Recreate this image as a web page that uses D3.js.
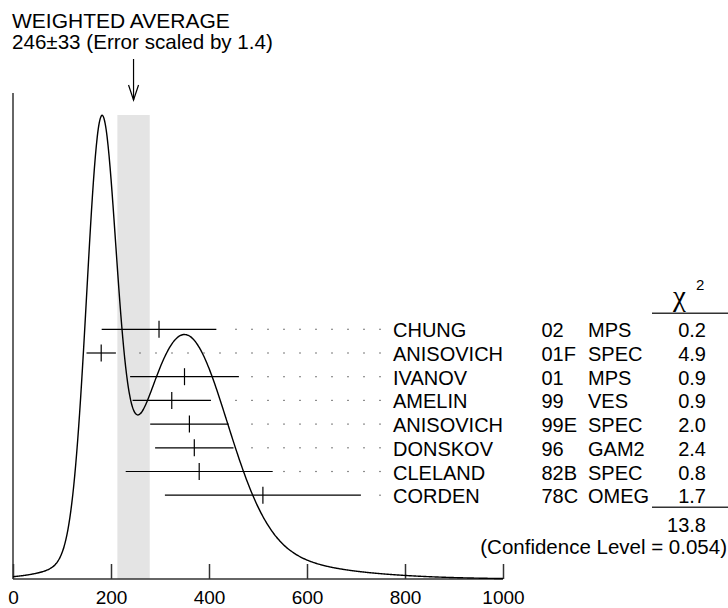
<!DOCTYPE html>
<html>
<head>
<meta charset="utf-8">
<script src="https://cdn.jsdelivr.net/npm/d3@7"></script>
<style>
  html, body { margin: 0; padding: 0; background: #fff; }
  svg { display: block; }
  text { font-family: "Liberation Sans", Arial, Helvetica, sans-serif; fill: #000; }
</style>
</head>
<body>
<svg id="chart" width="728" height="608"></svg>
<script>
// ---- data ----
const names = ["CHUNG", "ANISOVICH", "IVANOV", "AMELIN", "ANISOVICH", "DONSKOV", "CLELAND", "CORDEN"];
const years = ["02", "01F", "01", "99", "99E", "96", "82B", "78C"];
const experiments = ["MPS", "SPEC", "MPS", "VES", "SPEC", "GAM2", "SPEC", "OMEG"];
const values = [298, 180, 350, 324, 360, 370, 380, 510];
const errors = [117, 30, 111, 80, 80, 80, 150, 200];
const chi2 = ["0.2", "4.9", "0.9", "0.9", "2.0", "2.4", "0.8", "1.7"];
const xTicks = [0, 200, 400, 600, 800, 1000];
const average = 246;
const averageError = 33;
const errorScale = "1.4";
const chi2Total = "13.8";
const confidenceLevel = "0.054";

// ---- layout ----
const svg = d3.select("#chart");
const x = d3.scaleLinear().domain([0, 1000]).range([13, 503]);
const baseY = 579;
const rowY = d3.scalePoint().domain(d3.range(names.length)).range([329.3, 495.2]);

// ideogram: each measurement a Gaussian with area proportional to 1/error
const grid = d3.range(0, 1000.1, 2);
const curve = grid.map(v => {
  let s = 0;
  for (let i = 0; i < values.length; i++) {
    const z = (v - values[i]) / errors[i];
    s += Math.exp(-0.5 * z * z) / (errors[i] * errors[i]);
  }
  return [v, s];
});
const yMax = d3.max(curve, d => d[1]);
const y = d3.scaleLinear().domain([0, yMax]).range([baseY, 115]);

// weighted average band
svg.append("rect")
  .attr("x", x(average - averageError))
  .attr("width", x(average + averageError) - x(average - averageError))
  .attr("y", y(yMax))
  .attr("height", baseY - y(yMax))
  .attr("fill", "#e4e4e4");

// axes
const axisColor = "#333";
svg.append("line").attr("x1", x(0)).attr("x2", x(0)).attr("y1", 93).attr("y2", baseY)
  .attr("stroke", axisColor).attr("stroke-width", 1.5);
svg.append("line").attr("x1", x(0)).attr("x2", x(1000)).attr("y1", baseY).attr("y2", baseY)
  .attr("stroke", axisColor).attr("stroke-width", 1.5);
const xAxis = d3.axisBottom(x).tickValues(xTicks).tickSize(0).tickPadding(0).tickFormat(d3.format("d"));
const gx = svg.append("g").attr("transform", `translate(0,${baseY})`).call(xAxis);
gx.select(".domain").remove();
gx.selectAll(".tick line").remove();
gx.selectAll(".tick").append("line")
  .attr("y1", 0).attr("y2", -15).attr("stroke", axisColor).attr("stroke-width", 1.5);
gx.selectAll(".tick text")
  .attr("y", 25).attr("dy", null)
  .attr("font-size", "19px")
  .attr("font-family", '"Liberation Sans", Arial, sans-serif')
  .attr("fill", "#000");

// ideogram curve
svg.append("path")
  .datum(curve)
  .attr("d", d3.line().x(d => x(d[0])).y(d => y(d[1])).curve(d3.curveBasis))
  .attr("fill", "none").attr("stroke", "#000").attr("stroke-width", 1.4);

// measurements
const labelX = 393;
const dotLast = 380;
names.forEach((n, i) => {
  const yy = rowY(i);
  const g = svg.append("g");
  g.append("line")
    .attr("x1", x(values[i] - errors[i])).attr("x2", x(values[i] + errors[i]))
    .attr("y1", yy).attr("y2", yy)
    .attr("stroke", "#000").attr("stroke-width", 1.2);
  g.append("line")
    .attr("x1", x(values[i])).attr("x2", x(values[i]))
    .attr("y1", yy - 8.5).attr("y2", yy + 8.5)
    .attr("stroke", "#000").attr("stroke-width", 1.2);
  // leader dots
  const barEnd = x(values[i] + errors[i]);
  const dots = [];
  for (let px = dotLast; px > barEnd + 10; px -= 16) dots.push(px);
  g.selectAll("rect.dot").data(dots).enter().append("rect")
    .attr("class", "dot")
    .attr("x", d => d - 0.6).attr("y", yy - 0.6)
    .attr("width", 1.2).attr("height", 1.2)
    .attr("fill", "#444");
  g.append("text").attr("x", labelX).attr("y", yy + 8).attr("font-size", "20px").text(n);
  g.append("text").attr("x", 541.5).attr("y", yy + 8).attr("font-size", "20px").text(years[i]);
  g.append("text").attr("x", 588).attr("y", yy + 8).attr("font-size", "20px").text(experiments[i]);
  g.append("text").attr("x", 706).attr("y", yy + 8).attr("font-size", "20px")
    .attr("text-anchor", "end").text(chi2[i]);
});

// chi2 header
const chiHead = svg.append("text").attr("x", 673).attr("y", 305.5);
chiHead.append("tspan").attr("font-family", '"Liberation Serif", "DejaVu Serif", serif')
  .attr("font-size", "29px").text("χ");
svg.append("text").attr("x", 696).attr("y", 290).attr("font-size", "15px").text("2");
svg.append("line").attr("x1", 652).attr("x2", 728).attr("y1", 313.3).attr("y2", 313.3)
  .attr("stroke", "#333").attr("stroke-width", 1.5);
svg.append("line").attr("x1", 652).attr("x2", 728).attr("y1", 507.3).attr("y2", 507.3)
  .attr("stroke", "#333").attr("stroke-width", 1.5);
svg.append("text").attr("x", 706).attr("y", 531.5).attr("font-size", "20px")
  .attr("text-anchor", "end").text(chi2Total);
svg.append("text").attr("x", 727).attr("y", 554).attr("font-size", "20.5px")
  .attr("text-anchor", "end").text(`(Confidence Level = ${confidenceLevel})`);

// title
svg.append("text").attr("x", 12).attr("y", 28).attr("font-size", "21px").text("WEIGHTED AVERAGE");
svg.append("text").attr("x", 12).attr("y", 49.3).attr("font-size", "20.6px")
  .text(`${average}\u00B1${averageError} (Error scaled by ${errorScale})`);

// arrow
const ax = x(average);
svg.append("line").attr("x1", ax).attr("x2", ax).attr("y1", 59).attr("y2", 100)
  .attr("stroke", "#000").attr("stroke-width", 1.2);
svg.append("path").attr("d", `M${ax - 5},${85} L${ax},${100} L${ax + 5},${85}`)
  .attr("fill", "none").attr("stroke", "#000").attr("stroke-width", 1.2);
</script>
</body>
</html>
